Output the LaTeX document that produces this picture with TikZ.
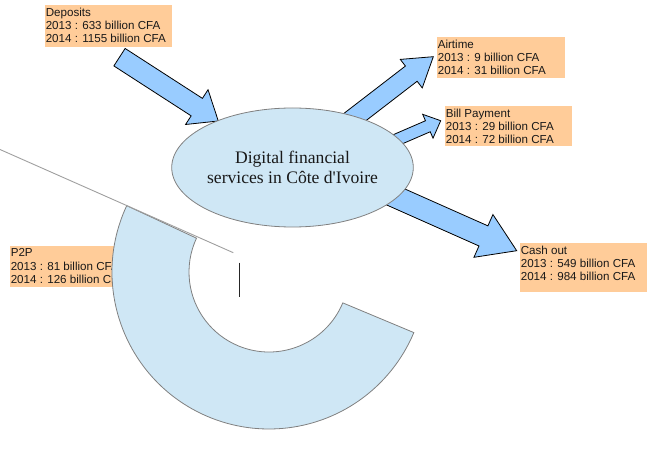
\documentclass[tikz,border=0pt]{standalone}
\usepackage{fontspec}
\setmainfont{Liberation Sans}
\newfontfamily\dfsserif{Liberation Serif}
\usetikzlibrary{calc,shapes.geometric}
\definecolor{peach}{HTML}{FFCC99}
\definecolor{arrowblue}{HTML}{99CCFF}
\definecolor{paleblue}{HTML}{CFE7F5}
\definecolor{edgegray}{HTML}{808080}
% #1 tail coordinate, #2 tip coordinate, #3 shaft half width, #4 head half width, #5 head length
\newcommand\blockarrow[5]{%
  \coordinate (hb) at ($(#2)!#5!(#1)$);
  \draw[flowarrow] ($(#1)!#3!90:(#2)$) -- ($(hb)!#3!90:(#2)$) -- ($(hb)!#4!90:(#2)$)
    -- (#2) -- ($(hb)!#4!-90:(#2)$) -- ($(hb)!#3!-90:(#2)$) -- ($(#1)!#3!-90:(#2)$) -- cycle;
}
\begin{document}
\begin{tikzpicture}[x=1bp,y=-1bp,
  databox/.style={rectangle, fill=peach, inner sep=0pt, minimum width=127bp, minimum height=41bp, anchor=north west},
  datatext/.style={anchor=north west, align=left, inner xsep=0.6bp, inner ysep=2.6bp,
    font=\fontsize{11.6bp}{13.2bp}\selectfont, text=black!90},
  flowarrow/.style={draw=black, fill=arrowblue, line width=0.8bp, line join=miter},
  hub/.style={ellipse, draw=edgegray, fill=paleblue, line width=0.8bp, minimum width=233bp,
    minimum height=119bp, inner sep=0pt, align=center, text=black!90,
    font=\dfsserif\fontsize{17.6bp}{20bp}\selectfont},
  ringpart/.style={draw=edgegray, fill=paleblue, line width=0.8bp},
  guide/.style={draw=gray!75, line width=0.9bp}]
\useasboundingbox (0,0) rectangle (653,452);

% P2P box (partly hidden by the ring)
\node[databox] (p2p) at (10,246) {};
\node[datatext] (p2ptext) at (p2p.north west) {P2P\\2013 : 81 billion CFA\\2014 : 126 billion CFA};

% ring
\coordinate (ringc) at (269,272);
\path[ringpart] ($(ringc)+(205:157)$) arc[start angle=205, end angle=22.7, radius=157]
  -- ($(ringc)+(22.7:80)$) arc[start angle=22.7, end angle=205, radius=80] -- cycle;

% gray line and cursor mark
\coordinate (g1) at (0,149.5);
\coordinate (g2) at (233.3,252.7);
\draw[guide] (g1) -- (g2);
\coordinate (cur1) at (239.3,262.7);
\coordinate (cur2) at (239.3,297.3);
\draw[black!85, line width=1bp] (cur1) -- (cur2);

% arrows
\coordinate (depT) at (119.5,57.2);  \coordinate (depH) at (218.3,121);
\coordinate (airT) at (332,134.7);   \coordinate (airH) at (433.3,56.7);
\coordinate (billT) at (382,146.1);  \coordinate (billH) at (440.7,120.7);
\coordinate (cashT) at (383,191.3);  \coordinate (cashH) at (516.7,250.7);
\blockarrow{depT}{depH}{10.4bp}{20.7bp}{25.6bp}
\blockarrow{airT}{airH}{9.6bp}{18bp}{27.8bp}
\blockarrow{billT}{billH}{6bp}{13bp}{14bp}
\blockarrow{cashT}{cashH}{11bp}{23.4bp}{36.4bp}

% hub
\node[hub] (dfs) at (292.5,167.5) {Digital financial\\services in C\^ote d\textquotesingle Ivoire};

% data boxes
\node[databox, minimum height=42bp] (dep) at (45,5) {};
\node[datatext] (deptext) at (dep.north west) {Deposits\\2013 : 633 billion CFA\\2014 : 1155 billion CFA};
\node[databox, minimum width=128bp] (air) at (437,37) {};
\node[datatext] (airtext) at (air.north west) {Airtime\\2013 : 9 billion CFA\\2014 : 31 billion CFA};
\node[databox, minimum height=40bp] (bill) at (445,106) {};
\node[datatext] (billtext) at (bill.north west) {Bill Payment\\2013 : 29 billion CFA\\2014 : 72 billion CFA};
\node[databox, minimum height=49bp] (cash) at (520,243) {};
\node[datatext] (cashtext) at (cash.north west) {Cash out\\2013 : 549 billion CFA\\2014 : 984 billion CFA};
\end{tikzpicture}
\end{document}
